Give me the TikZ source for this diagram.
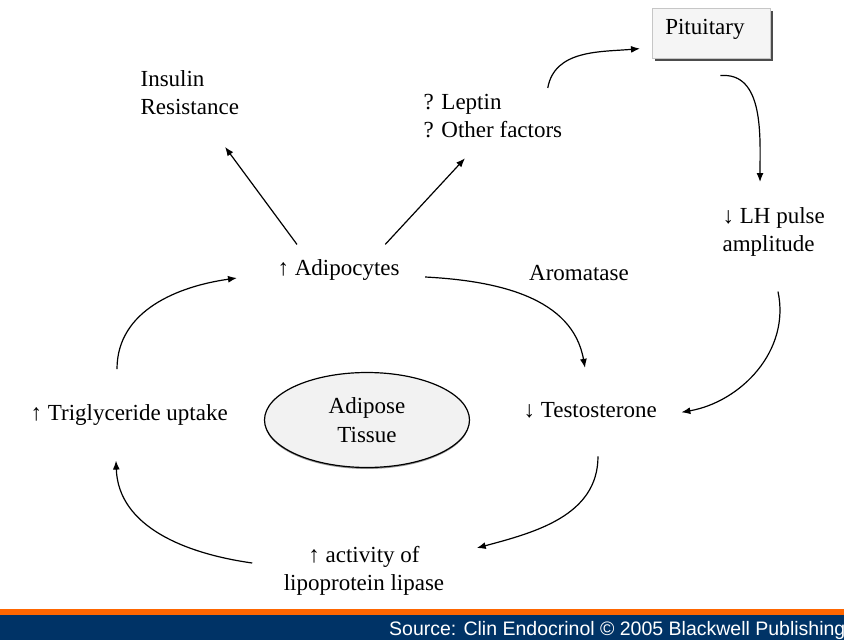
\documentclass[tikz,border=0pt]{standalone}
\usepackage{fontspec}
\setmainfont{Liberation Serif}
\newfontfamily\srcfont{Liberation Sans}
\usetikzlibrary{arrows.meta,shapes.geometric,shadows}
\definecolor{navyband}{RGB}{0,51,102}
\definecolor{orangeband}{RGB}{255,102,0}

\begin{document}
\begin{tikzpicture}[x=1pt, y=1pt, ->, >={Latex[length=9pt,width=7pt]}, line width=1.2pt,
  lbl/.style={inner sep=0pt, font=\fontsize{23}{28}\selectfont, align=left},
  pitbox/.style={draw=gray!45, line width=0.6pt, fill=gray!8, font=\fontsize{23}{28}\selectfont,
    inner xsep=13pt, inner ysep=0pt, text width=92pt, align=left, text height=26.5pt, text depth=23.5pt,
    drop shadow={shadow xshift=2.5pt, shadow yshift=-2.5pt, fill=black!70, opacity=1}},
  tissue/.style={draw, ellipse, fill=gray!10, minimum width=205pt, minimum height=95pt, inner sep=0pt,
    font=\fontsize{23}{29}\selectfont, align=center,
    drop shadow={shadow xshift=0pt, shadow yshift=-1.5pt, fill=gray!80, opacity=1}}]
\path[use as bounding box] (0,0) rectangle (844,-640);
\node[lbl, anchor=north west] (ins) at (140,-70) {Insulin\\Resistance};
\node[lbl, anchor=north west] (lep) at (423,-94) {? Leptin\\? Other factors};
\node[pitbox, anchor=north west] (pit) at (652,-8) {Pituitary};
\node[lbl, anchor=north west] (lh) at (722,-207) {↓ LH pulse\\amplitude};
\node[lbl, anchor=base west] (adi) at (277,-275.5) {↑ Adipocytes};
\node[lbl] (aro) at (579,-273) {Aromatase};
\node[lbl, anchor=base west] (tes) at (523,-417.5) {↓ Testosterone};
\node[lbl, anchor=base west] (tri) at (30,-420.5) {↑ Triglyceride uptake};
\node[tissue] (tis) at (367,-420) {Adipose\\Tissue};
\node[lbl, align=center, anchor=north] (lpl) at (364,-546) {↑ activity of\\lipoprotein lipase};
\path ([xshift=20pt,yshift=14.5pt]adi.north west) edge ([xshift=85pt,yshift=-31.5pt]ins.south west);
\path ([xshift=-15pt,yshift=14.5pt]adi.north east) edge ([xshift=42pt,yshift=-19.5pt]lep.south west);
\path ([xshift=-15pt,yshift=6pt]lep.north east) edge[out=80,in=185] ([xshift=-12pt,yshift=10pt]pit.south west);
\path ([xshift=9pt,yshift=-17pt]pit.south) edge[out=5,in=90] ([xshift=38pt,yshift=25pt]lh.north west);
\path ([xshift=56pt,yshift=-34.5pt]lh.south west) edge[out=-78,in=10] ([xshift=24pt,yshift=-2pt]tes.east);
\path ([xshift=25pt,yshift=-7pt]adi.east) edge[out=-3,in=100] ([xshift=62pt,yshift=34pt]tes.north west);
\path ([xshift=75pt,yshift=-37.5pt]tes.south west) edge[out=-90,in=15] ([xshift=32pt,yshift=-2pt]lpl.north east);
\path ([xshift=-31pt,yshift=-17pt]lpl.north west) edge[out=172,in=-88] ([xshift=86pt,yshift=-34.5pt]tri.south west);
\path ([xshift=87pt,yshift=34.8pt]tri.north west) edge[out=90,in=188] ([xshift=-40pt,yshift=-8pt]adi.west);
% footer band
\fill[orangeband] (0,-609) rectangle (844,-615);
\fill[navyband] (0,-615) rectangle (844,-640);
\node[anchor=base east, inner sep=0pt, text=white, font=\srcfont\fontsize{19.5}{22}\selectfont] (src) at (846,-635) {Source: Clin Endocrinol © 2005 Blackwell Publishing};
\end{tikzpicture}
\end{document}
